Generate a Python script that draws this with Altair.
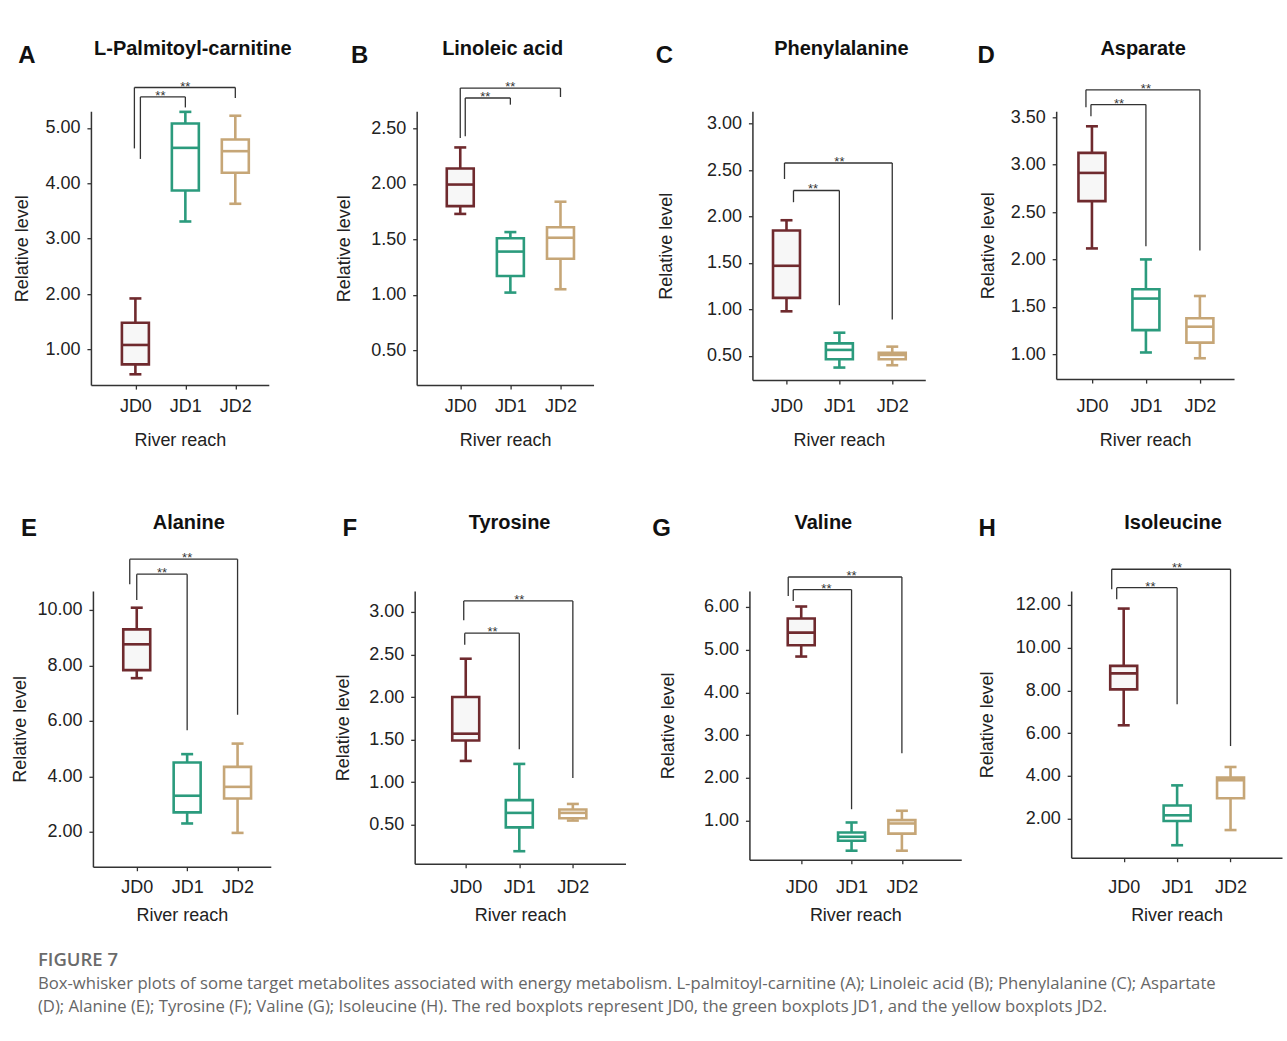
import altair as alt
import pandas as pd

groups = ["JD0", "JD1", "JD2"]
colors = ["#6f2a2e", "#2b9b7d", "#c6a677"]
fills = ["#f7f7f7", "#ffffff", "#ffffff"]

keys = ["A", "B", "C", "D", "E", "F", "G", "H"]
titles = ["L-Palmitoyl-carnitine", "Linoleic acid", "Phenylalanine", "Asparate",
          "Alanine", "Tyrosine", "Valine", "Isoleucine"]

# five-number summaries per panel, one value per group (JD0, JD1, JD2)
low = {"A": [0.55, 3.31, 3.63], "B": [1.73, 1.02, 1.05], "C": [0.98, 0.375, 0.40],
       "D": [2.116, 1.018, 0.957], "E": [7.54, 2.30, 1.96], "F": [1.25, 0.19, 0.55],
       "G": [4.84, 0.30, 0.30], "H": [6.37, 0.76, 1.47]}
q1 = {"A": [0.73, 3.87, 4.19], "B": [1.80, 1.17, 1.325], "C": [1.125, 0.465, 0.465],
      "D": [2.615, 1.254, 1.122], "E": [7.83, 2.70, 3.20], "F": [1.49, 0.47, 0.577],
      "G": [5.105, 0.533, 0.70], "H": [8.05, 1.89, 2.955]}
median = {"A": [1.08, 4.64, 4.58], "B": [1.995, 1.39, 1.515], "C": [1.47, 0.565, 0.51],
          "D": [2.913, 1.587, 1.29], "E": [8.76, 3.30, 3.62], "F": [1.57, 0.64, 0.64],
          "G": [5.40, 0.626, 0.937], "H": [8.80, 2.16, 3.80]}
q3 = {"A": [1.48, 5.08, 4.79], "B": [2.14, 1.51, 1.61], "C": [1.85, 0.635, 0.535],
      "D": [3.124, 1.686, 1.379], "E": [9.30, 4.50, 4.34], "F": [2.0, 0.79, 0.68],
      "G": [5.73, 0.727, 1.016], "H": [9.15, 2.62, 3.92]}
high = {"A": [1.92, 5.29, 5.22], "B": [2.33, 1.566, 1.84], "C": [1.96, 0.75, 0.60],
        "D": [3.405, 2.0, 1.614], "E": [10.08, 4.80, 5.18], "F": [2.45, 1.215, 0.745],
        "G": [6.01, 0.96, 1.234], "H": [11.83, 3.56, 4.42]}

# significance brackets (JD0 vs JD2 = outer, JD0 vs JD1 = inner): [top, left foot, right foot]
outer_bracket = {"A": [5.73, 4.63, 5.54], "B": [2.866, 2.415, 2.785], "C": [2.576, 2.404, 0.892],
                 "D": [3.79, 3.605, 2.095], "E": [11.83, 10.93, 6.22], "F": [3.129, 2.903, 1.05],
                 "G": [6.70, 6.257, 2.58], "H": [13.67, 12.73, 5.40]}
inner_bracket = {"A": [5.56, 4.44, 5.37], "B": [2.776, 2.43, 2.716], "C": [2.28, 2.154, 1.046],
                 "D": [3.634, 3.51, 2.14], "E": [11.29, 10.36, 5.66], "F": [2.75, 2.613, 1.386],
                 "G": [6.404, 6.14, 1.27], "H": [12.81, 12.27, 7.35]}
signif = "**"

y_ticks = {"A": [1, 2, 3, 4, 5], "B": [0.5, 1, 1.5, 2, 2.5], "C": [0.5, 1, 1.5, 2, 2.5, 3],
           "D": [1, 1.5, 2, 2.5, 3, 3.5], "E": [2, 4, 6, 8, 10], "F": [0.5, 1, 1.5, 2, 2.5, 3],
           "G": [1, 2, 3, 4, 5, 6], "H": [2, 4, 6, 8, 10, 12]}

# layout / style per panel
layout = {
    "A": dict(w=178, h=274, xd=[-0.79, 2.57], yd=[0.355, 5.30], ytp=13, xlp=8, tx=102, lx=-64, lo=-1, li=5),
    "B": dict(w=177, h=274, xd=[-0.77, 2.56], yd=[0.185, 2.656], ytp=17, xlp=8, tx=86, lx=-57, lo=0, li=5),
    "C": dict(w=173, h=269, xd=[-0.55, 2.53], yd=[0.24, 3.132], ytp=31, xlp=13, tx=89, lx=-88, lo=-2, li=7),
    "D": dict(w=178, h=268, xd=[-0.57, 2.54], yd=[0.737, 3.563], ytp=13, xlp=14, tx=87, lx=-70, lo=-6, li=-1),
    "E": dict(w=178, h=276, xd=[-0.77, 2.56], yd=[0.74, 10.685], ytp=7, xlp=8, tx=96, lx=-64, lo=-7, li=0),
    "F": dict(w=211, h=273, xd=[-0.86, 2.89], yd=[0.043, 3.246], ytp=16, xlp=11, tx=95, lx=-65, lo=-2, li=-1),
    "G": dict(w=212, h=269, xd=[-0.93, 3.08], yd=[0.089, 6.374], ytp=26, xlp=15, tx=74, lx=-88, lo=-13, li=-8),
    "H": dict(w=211, h=267, xd=[-0.89, 2.87], yd=[0.175, 12.655], ytp=19, xlp=17, tx=102, lx=-84, lo=-12, li=-7),
}
row_of = {k: (0 if k in "ABCD" else 1) for k in keys}
title_y = [-62, -68]
letter_y = [-55, -62]
x_title_pad = [16, 10]

FONT = "Liberation Sans"
INK = "#333333"
LINE_W = 2.6
label_expr = "[" + ",".join("'%s'" % g for g in groups) + "][datum.value]"


def panel(k, title):
    L = layout[k]
    r = row_of[k]
    df = pd.DataFrame({"g": groups, "xi": list(range(len(groups))),
                       "lo": low[k], "q1": q1[k], "md": median[k], "q3": q3[k], "hi": high[k]})
    xs = alt.Scale(domain=L["xd"], nice=False, zero=False)
    ys = alt.Scale(domain=L["yd"], nice=False, zero=False)
    x = alt.X("xi:Q", scale=xs,
              axis=alt.Axis(values=list(range(len(groups))), labelExpr=label_expr, title="River reach",
                            labelPadding=L["xlp"], titlePadding=x_title_pad[r], labelFlush=False))
    col = alt.Color("g:N", scale=alt.Scale(domain=groups, range=colors), legend=None)
    base = alt.Chart(df)
    whisk_lo = base.mark_rule(strokeWidth=LINE_W).encode(
        x=x, y=alt.Y("lo:Q", scale=ys, axis=alt.Axis(values=y_ticks[k], format=".2f", labelPadding=7,
                                                      title="Relative level", titlePadding=L["ytp"])),
        y2="q1:Q", color=col)
    whisk_hi = base.mark_rule(strokeWidth=LINE_W).encode(x="xi:Q", y="q3:Q", y2="hi:Q", color=col)
    box = base.mark_bar(size=27, strokeWidth=LINE_W).encode(
        x="xi:Q", y="q1:Q", y2="q3:Q",
        stroke=alt.Stroke("g:N", scale=alt.Scale(domain=groups, range=colors), legend=None),
        fill=alt.Fill("g:N", scale=alt.Scale(domain=groups, range=fills), legend=None))
    med = base.mark_tick(size=27, thickness=LINE_W, orient="horizontal", opacity=1).encode(
        x="xi:Q", y="md:Q", color=col)
    cap_lo = base.mark_tick(size=12, thickness=LINE_W, orient="horizontal", opacity=1).encode(
        x="xi:Q", y="lo:Q", color=col)
    cap_hi = base.mark_tick(size=12, thickness=LINE_W, orient="horizontal", opacity=1).encode(
        x="xi:Q", y="hi:Q", color=col)

    br = pd.DataFrame({
        "kind": ["outer", "inner"],
        "x0": [0, 0], "x1": [2, 1],
        "top": [outer_bracket[k][0], inner_bracket[k][0]],
        "lfoot": [outer_bracket[k][1], inner_bracket[k][1]],
        "rfoot": [outer_bracket[k][2], inner_bracket[k][2]],
        "label": [signif, signif],
    })
    bb = alt.Chart(br)
    layers = []
    for kind, off in (("outer", L["lo"]), ("inner", L["li"])):
        sub = bb.transform_filter(alt.datum.kind == kind)
        layers.append(sub.mark_rule(color=INK, strokeWidth=1.3, xOffset=off).encode(
            x="x0:Q", y="lfoot:Q", y2="top:Q"))
        layers.append(sub.mark_rule(color=INK, strokeWidth=1.3, xOffset=off, x2Offset=0).encode(
            x="x0:Q", x2="x1:Q", y="top:Q"))
    layers.append(bb.mark_rule(color=INK, strokeWidth=1.3).encode(x="x1:Q", y="rfoot:Q", y2="top:Q"))
    layers.append(bb.transform_calculate(mid="(datum.x0 + datum.x1) / 2").mark_text(
        fontSize=13, color=INK, baseline="alphabetic", dy=3, font=FONT).encode(
        x="mid:Q", y="top:Q", text="label:N"))

    head = pd.DataFrame({"t": [title], "letter": [k]})
    t_title = alt.Chart(head).mark_text(fontSize=20, fontWeight="bold", font=FONT, color="#111",
                                        baseline="middle").encode(
        x=alt.value(L["tx"]), y=alt.value(title_y[r]), text="t:N")
    t_letter = alt.Chart(head).mark_text(fontSize=24, fontWeight="bold", font=FONT, color="#111",
                                         baseline="middle").encode(
        x=alt.value(L["lx"]), y=alt.value(letter_y[r]), text="letter:N")

    return alt.layer(whisk_lo, whisk_hi, box, med, cap_lo, cap_hi, *layers, t_title, t_letter).properties(
        width=L["w"], height=L["h"])


def spacer(w):
    return alt.Chart(pd.DataFrame({"v": [0]})).mark_point(opacity=0).properties(width=w, height=1)


row_gaps = [[0, 148, 159, 131], [2, 144, 124, 110]]
rows = []
for r in range(2):
    items = []
    for j in range(4):
        k = keys[r * 4 + j]
        if row_gaps[r][j] > 0:
            items.append(spacer(row_gaps[r][j]))
        items.append(panel(k, titles[r * 4 + j]))
    rows.append(alt.hconcat(*items, spacing=0, bounds="flush"))

caption_title = "FIGURE 7"
caption_lines = [
    "Box-whisker plots of some target metabolites associated with energy metabolism. L-palmitoyl-carnitine (A); Linoleic acid (B); Phenylalanine (C); Aspartate",
    "(D); Alanine (E); Tyrosine (F); Valine (G); Isoleucine (H). The red boxplots represent JD0, the green boxplots JD1, and the yellow boxplots JD2.",
]

chart = alt.vconcat(*rows, spacing=480, bounds="flush").properties(
    padding={"left": 11, "top": 39, "right": 5, "bottom": 10},
    background="white",
    title=alt.TitleParams(caption_title, subtitle=caption_lines, orient="bottom", anchor="start",
                          offset=26, dx=26, font="Open Sans", fontSize=18.5, fontWeight=600, color="#6b6b6b",
                          subtitleFont="Open Sans", subtitleFontSize=16.7, subtitleColor="#666666",
                          subtitlePadding=7, subtitleLineHeight=23),
).configure_view(stroke=None).configure_axis(
    grid=False, domainColor=INK, domainWidth=1.5, tickColor=INK, tickSize=4, tickWidth=1.3,
    labelFont=FONT, titleFont=FONT, labelFontSize=18, titleFontSize=18, labelColor="#222",
    titleColor="#222", titleFontWeight="normal", labelPadding=4
)

chart.save("out.html", embed_options={"renderer": "svg", "actions": False})
